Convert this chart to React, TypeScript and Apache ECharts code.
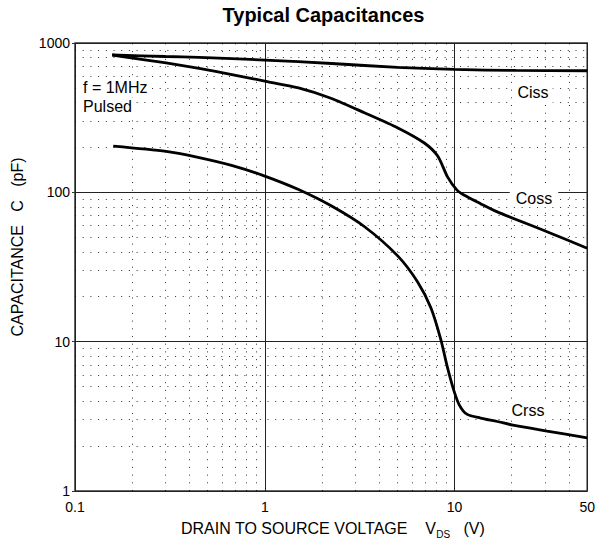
import React, { useEffect, useRef } from 'react';
import * as echarts from 'echarts';

// Drain-source voltage (V) / capacitance (pF) pairs
const cissData: number[][] = [
  [0.157, 832], [0.3, 812], [0.45, 800], [1, 769], [2.25, 729], [5, 686], [10, 665], [21, 655], [50, 652],
];
const cossData: number[][] = [
  [0.157, 831], [0.302, 735], [0.451, 675], [0.671, 615], [1, 556], [1.506, 500], [2.25, 425], [3.37, 340],
  [5.03, 270], [6.93, 214], [8.15, 175], [9.18, 127], [10.3, 103.5], [11.2, 96], [13.7, 84],
  [16.8, 74], [30.7, 54.5], [50, 42.2],
];
const crssData: number[][] = [
  [0.159, 204], [0.302, 188], [0.451, 171], [0.675, 151], [1, 128.5], [1.506, 104.4], [2.25, 80.9], [3.37, 58.6],
  [5.03, 37.4], [6.39, 25.1], [7.51, 16.8], [8.48, 10.25], [9.15, 6.8], [9.9, 4.74], [10.6, 3.76], [11.6, 3.27],
  [13.7, 3.08], [16.8, 2.92], [20.3, 2.76], [30.7, 2.52], [50, 2.27],
];

const xMin = 0.1;
const xMax = 50;
const yMin = 1;
const yMax = 1000;
const xMinorGrid = [0.2, 0.3, 0.4, 0.5, 0.6, 0.7, 0.8, 0.9, 2, 3, 4, 5, 6, 7, 8, 9, 20, 30, 40];
const yMinorGrid = [2, 3, 4, 5, 6, 7, 8, 9, 20, 30, 40, 50, 60, 70, 80, 90, 200, 300, 400, 500, 600, 700, 800, 900];

const titleText = 'Typical Capacitances';
const yNameText = 'CAPACITANCE   C   (pF)';
const noteLines = ['f = 1MHz', 'Pulsed'];
const seriesLabels = ['Ciss', 'Coss', 'Crss'];

export default function App() {
  const ref = useRef<HTMLDivElement>(null);
  useEffect(() => {
    const chart = echarts.init(ref.current!, null, { renderer: 'svg' });
    const font = "'Liberation Sans', Arial, Helvetica, sans-serif";
    const dotted = { color: '#000', width: 1, type: [1, 6.7] as any, opacity: 0.8 };
    const curve = (name: string, data: number[][], extra: any = {}) => ({
      name,
      type: 'line',
      data,
      showSymbol: false,
      smooth: 0.25,
      silent: true,
      z: 5,
      lineStyle: { color: '#000', width: 2.8 },
      ...extra,
    });
    const txt = (x: number, y: number, text: string, size: number, align: string, extraStyle: any = {}, extra: any = {}) => ({
      type: 'text',
      x,
      y,
      z: 100,
      silent: true,
      ...extra,
      style: {
        text,
        fontSize: size,
        fontFamily: font,
        fill: '#000',
        align,
        textAlign: align,
        verticalAlign: 'middle',
        textVerticalAlign: 'middle',
        ...extraStyle,
      },
    });

    chart.setOption({
      animation: false,
      grid: {
        left: 75, right: 7, top: 43, bottom: 53,
        show: true, borderColor: '#333', borderWidth: 1.5, backgroundColor: 'transparent',
      },
      xAxis: {
        type: 'log', logBase: 10, min: xMin, max: xMax,
        axisLine: { show: false },
        axisTick: { show: false },
        axisLabel: {
          fontFamily: font, fontSize: 14, color: '#000', margin: 9,
          formatter: (v: number) => String(+Number(v).toPrecision(3)),
        },
        splitLine: { show: true, lineStyle: { color: '#222', width: 1 } },
      },
      yAxis: {
        type: 'log', logBase: 10, min: yMin, max: yMax,
        axisLine: { show: false },
        axisTick: { show: true, length: 3, lineStyle: { color: '#333' } },
        axisLabel: {
          fontFamily: font, fontSize: 14, color: '#000', margin: 5,
          formatter: (v: number) => String(Math.round(v)),
        },
        splitLine: { show: true, lineStyle: { color: '#222', width: 1 } },
      },
      series: [
        curve('Ciss', cissData, {
          markLine: {
            silent: true,
            symbol: 'none',
            label: { show: false },
            lineStyle: dotted,
            data: [
              ...xMinorGrid.map((v) => ({ xAxis: v })),
              ...yMinorGrid.map((v) => ({ yAxis: v })),
            ],
          },
        }),
        curve('Coss', cossData),
        curve('Crss', crssData),
      ],
      graphic: [
        txt(323.5, 14.5, titleText, 20, 'center', { fontWeight: 'bold' }),
        txt(17, 247, yNameText, 16, 'center', {}, { rotation: Math.PI / 2 }),
        {
          type: 'text', x: 181, y: 528, z: 100, silent: true,
          style: {
            text: '{n|DRAIN TO SOURCE VOLTAGE    V}{s|DS}{n|   (V)}',
            align: 'left', textAlign: 'left', verticalAlign: 'middle', textVerticalAlign: 'middle',
            fill: '#000',
            rich: {
              n: { fontSize: 16, fontFamily: font, fill: '#000', lineHeight: 18 },
              s: { fontSize: 10, fontFamily: font, fill: '#000', lineHeight: 12, padding: [12, 0, 0, 0] },
            },
          },
        },
        txt(81, 87.5, noteLines[0], 16, 'left', { backgroundColor: '#fff', padding: [1, 2] }),
        txt(81, 106.5, noteLines[1], 16, 'left', { backgroundColor: '#fff', padding: [1, 2] }),
        txt(533, 92.2, seriesLabels[0], 16, 'center', { backgroundColor: '#fff', padding: [4, 4] }),
        txt(534, 198, seriesLabels[1], 16, 'center', { backgroundColor: '#fff', padding: [1, 6] }),
        txt(528, 410, seriesLabels[2], 16, 'center', { backgroundColor: '#fff', padding: [2, 4] }),
      ],
    });
    return () => chart.dispose();
  }, []);
  return <div ref={ref} style={{ position: 'absolute', left: 0, top: 0, width: 598, height: 544 }} />;
}
